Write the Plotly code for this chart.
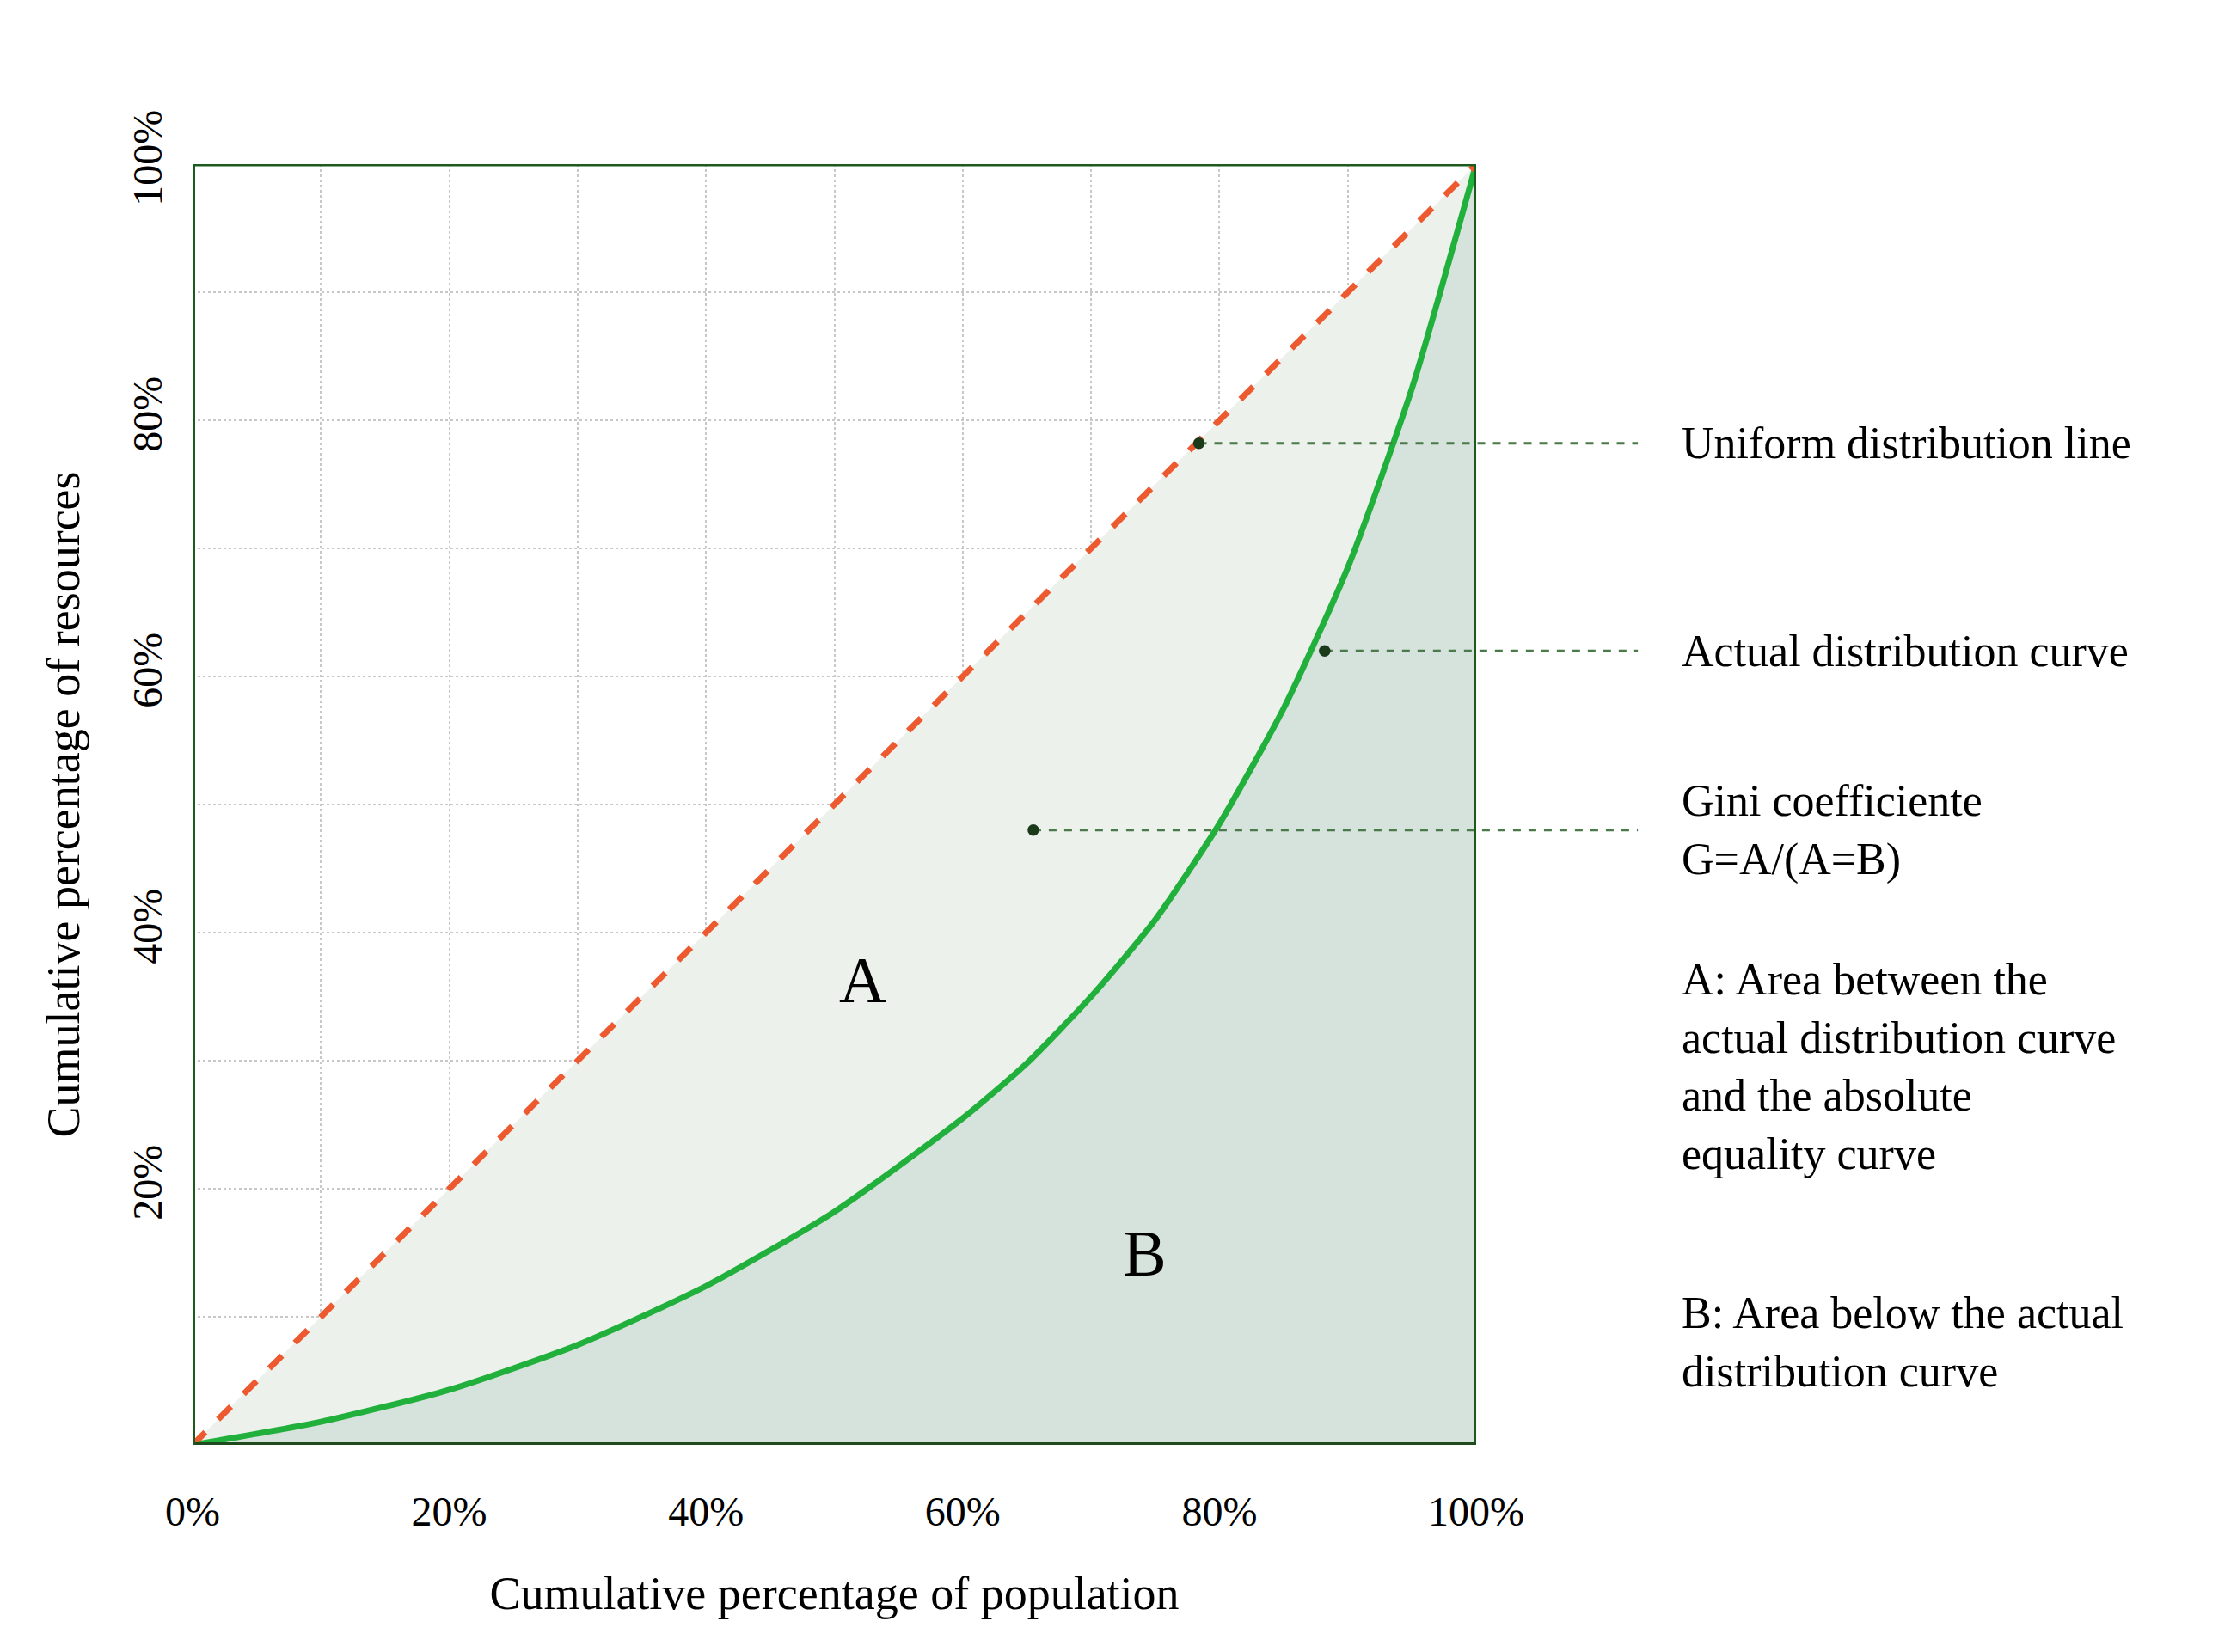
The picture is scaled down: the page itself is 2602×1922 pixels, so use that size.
import plotly.graph_objects as go

pop = [0, 10, 20, 30, 40, 50, 60, 65, 70, 75, 80, 85, 90, 95, 100]
res = [0, 1.8, 4.3, 7.8, 12.4, 18.2, 25.5, 29.8, 35, 41, 48.5, 57.5, 68.5, 82.5, 100]
diag_x = [0, 100]
diag_y = [0, 100]
tick_vals = [0, 10, 20, 30, 40, 50, 60, 70, 80, 90, 100]
x_text = ["0%", "", "20%", "", "40%", "", "60%", "", "80%", "", "100%"]
y_text = ["", "", "20%", "", "40%", "", "60%", "", "80%", "", "100%"]

F = "Liberation Serif"
fig = go.Figure()
fig.add_trace(go.Scatter(x=diag_x, y=diag_y, mode="none", fill="tozeroy", fillcolor="#ecf1ec"))
fig.add_trace(go.Scatter(x=pop, y=res, mode="none", fill="tozeroy", fillcolor="#d6e3dc",
                         line_shape="spline", line_smoothing=0.6))
fig.add_trace(go.Scatter(x=pop, y=res, mode="lines",
                         line=dict(color="#22b03c", width=7, shape="spline", smoothing=0.6)))
fig.add_trace(go.Scatter(x=diag_x, y=diag_y, mode="lines", line=dict(color="#ee5a30", width=7, dash="dash")))

shapes = [
    dict(type="line", x0=0, x1=100, y0=100, y1=100, line=dict(color="#1e5a1e", width=5)),
    dict(type="line", x0=100, x1=100, y0=0, y1=100, line=dict(color="#1e5a1e", width=5)),
    dict(type="line", x0=0, x1=100, y0=0, y1=0, line=dict(color="#1e4a1e", width=6)),
    dict(type="line", x0=0, x1=0, y0=0, y1=100, line=dict(color="#1e5a1e", width=6)),
]
leaders = [(78.4, 78.2), (88.2, 62), (65.5, 48)]
for lx, ly in leaders:
    shapes.append(dict(type="line", xref="paper", yref="paper", x0=lx/100, x1=1.126, y0=ly/100, y1=ly/100,
                       line=dict(color="#4a7a4a", width=3, dash="dash")))
    shapes.append(dict(type="circle", x0=lx-0.45, x1=lx+0.45, y0=ly-0.45, y1=ly+0.45,
                       fillcolor="#1a3a1a", line=dict(width=0)))

ann = []
ann.append(dict(x=1.108, y=0, ax=0, ay=0, axref="x", ayref="y", xref="paper", yref="paper", text="",
                showarrow=True, arrowhead=2, arrowsize=1.2, arrowwidth=5, arrowcolor="black"))
ann.append(dict(x=0, y=1.10, ax=0, ay=0, axref="x", ayref="y", xref="paper", yref="paper", text="",
                showarrow=True, arrowhead=2, arrowsize=1.2, arrowwidth=5, arrowcolor="black"))
txt = [
    (78.2, "Uniform distribution line"),
    (62, "Actual distribution curve"),
    (48, "Gini coefficiente<br>G=A/(A=B)"),
    (29.5, "A: Area between the<br>actual distribution curve<br>and the absolute<br>equality curve"),
    (8, "B: Area below the actual<br>distribution curve"),
]
for yv, t in txt:
    ann.append(dict(x=1.159, y=yv/100, xref="paper", yref="paper", text=t, showarrow=False,
                    xanchor="left", yanchor="middle", align="left",
                    font=dict(family=F, size=52, color="black")))
ann.append(dict(x=52.2, y=36.3, text="A", showarrow=False, font=dict(family=F, size=76, color="black")))
ann.append(dict(x=74.2, y=15, text="B", showarrow=False, font=dict(family=F, size=76, color="black")))

fig.update_layout(
    width=2602, height=1922, plot_bgcolor="white", paper_bgcolor="white", showlegend=False,
    margin=dict(l=216, r=893, t=183, b=249),
    shapes=shapes, annotations=ann,
    xaxis=dict(range=[0, 100], tickvals=tick_vals, ticktext=x_text, showgrid=True, gridcolor="#c8c8c8",
               griddash="dot", gridwidth=2, zeroline=False, ticks="", ticklabelstandoff=45,
               tickfont=dict(family=F, size=48, color="black"),
               title=dict(text="Cumulative percentage of population",
                          font=dict(family=F, size=54, color="black"), standoff=50)),
    yaxis=dict(range=[0, 100], tickvals=tick_vals, ticktext=y_text, showgrid=True, gridcolor="#c8c8c8",
               griddash="dot", gridwidth=2, zeroline=False, ticks="", tickangle=-90, ticklabelstandoff=25,
               tickfont=dict(family=F, size=48, color="black"),
               title=dict(text="Cumulative percentage of resources",
                          font=dict(family=F, size=54, color="black"), standoff=35)),
)
fig.write_html("out.html")
